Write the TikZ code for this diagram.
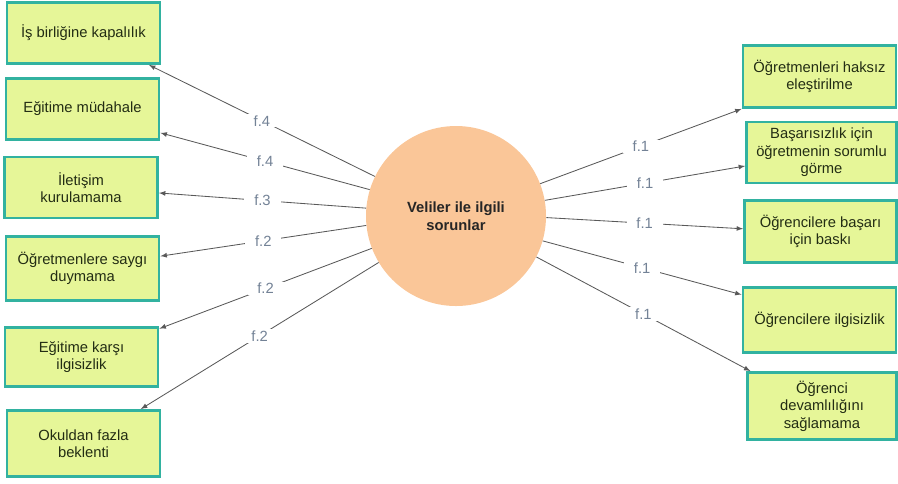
\documentclass[tikz,border=0pt]{standalone}
\usepackage{fontspec}
\setmainfont{Liberation Sans}
\usetikzlibrary{arrows, math}
\definecolor{boxfill}{RGB}{230,246,152}
\definecolor{boxline}{RGB}{50,178,160}
\definecolor{peach}{RGB}{250,198,152}
\definecolor{labgray}{RGB}{115,130,150}
\definecolor{boxtext}{RGB}{35,45,20}

\begin{document}
\begin{tikzpicture}[x=0.025cm,y=-0.025cm,
  kutu/.style={draw=boxline,line width=2pt,fill=boxfill,text=boxtext,align=center,
    minimum width=153*0.025cm,minimum height=61*0.025cm,inner sep=2pt,
    font=\fontsize{10.5}{12.5}\selectfont},
  ok/.style={-latex,draw=black!65,line width=0.6pt},
  etiket/.style={midway,fill=white,text=labgray,inner xsep=7pt,inner ysep=1pt,
    font=\fontsize{10.5}{12}\selectfont}]
\tikzmath{
\r=90;
\cx=456;
\cy=216;
}
\useasboundingbox (0,0) rectangle (898,483);

\node[circle,fill=peach,minimum size=2*\r*0.025cm,align=center,text=black!85,
  font=\fontsize{10.5}{12.5}\selectfont\bfseries] (vel) at (\cx,\cy) {Veliler ile ilgili\\sorunlar};

%%%%%%%%%%   left side
\node[kutu] (s1) at (83.5,33) {İş birliğine kapalılık};
\node[kutu] (s2) at (82.5,109) {Eğitime müdahale};
\node[kutu] (s3) at (81,187.5) {İletişim\\kurulamama};
\node[kutu,minimum height=64*0.025cm] (s4) at (82.5,268.5) {Öğretmenlere saygı\\duymama};
\node[kutu,minimum height=59*0.025cm] (s5) at (81.5,357) {Eğitime karşı\\ilgisizlik};
\node[kutu,minimum height=66*0.025cm] (s6) at (83.5,443.5) {Okuldan fazla\\beklenti};

\draw[ok] (vel.154) -- (s1.-26) node[etiket]{f.4};
\draw[ok] (vel.163) -- (s2.-17) node[etiket]{f.4};
\draw[ok] (vel.175) -- (s3.-4) node[etiket]{f.3};
\draw[ok] (vel.186) -- (s4.9) node[etiket]{f.2};
\draw[ok] (vel.201) -- (s5.20) node[etiket]{f.2};
\draw[ok] (vel.211) -- (s6.31) node[etiket]{f.2};

%%%%%%%%%%   right side
\node[kutu,minimum height=62*0.025cm] (o1) at (819.5,76.5) {Öğretmenleri haksız\\eleştirilme};
\node[kutu,minimum width=150*0.025cm] (o2) at (821.5,152.5) {Başarısızlık için\\öğretmenin sorumlu\\görme};
\node[kutu,minimum width=152*0.025cm,minimum height=62*0.025cm] (o3) at (820.5,231.5) {Öğrencilere başarı\\için baskı};
\node[kutu,minimum height=65*0.025cm] (o4) at (819.5,320) {Öğrencilere ilgisizlik};
\node[kutu,minimum width=149*0.025cm,minimum height=67*0.025cm] (o5) at (822,406) {Öğrenci\\devamlılığını\\sağlamama};

\draw[ok] (vel.21) -- (o1.south west) node[etiket]{f.1};
\draw[ok] (vel.10) -- (o2.190) node[etiket]{f.1};
\draw[ok] (vel.-1) -- (o3.178) node[etiket]{f.1};
\draw[ok] (vel.-16) -- (o4.162) node[etiket]{f.1};
\draw[ok] (vel.-27) -- (o5.154) node[etiket]{f.1};
\end{tikzpicture}
\end{document}
